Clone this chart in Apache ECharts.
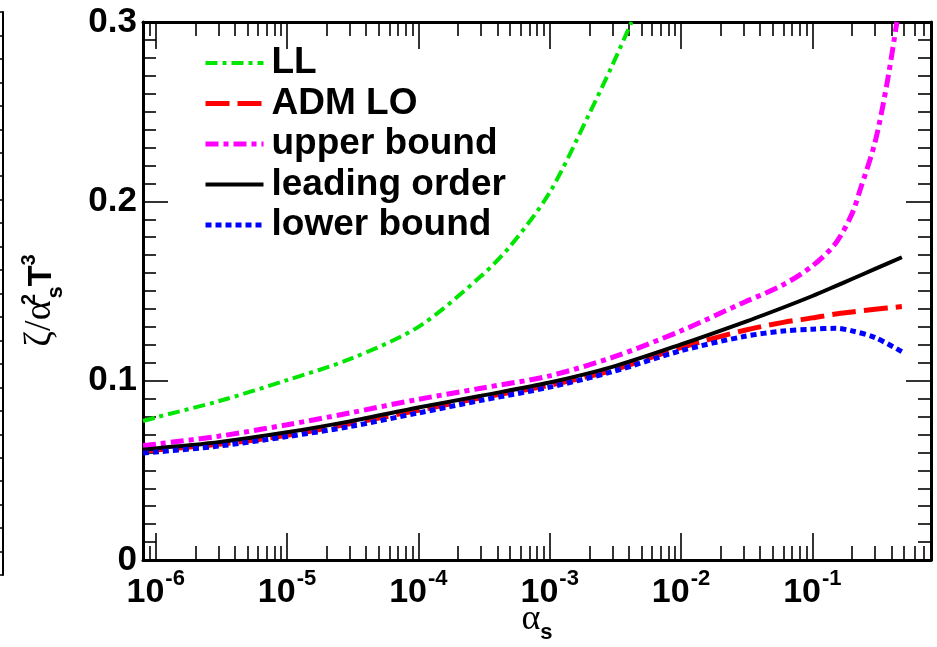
<!DOCTYPE html>
<html>
<head>
<meta charset="utf-8">
<script src="https://cdn.jsdelivr.net/npm/echarts@6/dist/echarts.min.js"></script>
<style>
  html, body { margin: 0; padding: 0; background: #fff; }
  #chart { width: 937px; height: 647px; }
</style>
</head>
<body>
<div id="chart"></div>
<script>
// ---- data: zeta / (alpha_s^2 T^3) versus alpha_s ----
const llX      = [8e-7, 1e-6, 3e-6, 1e-5, 3e-5, 1e-4, 3e-4, 5e-4, 1e-3, 2e-3, 3e-3, 0.0042];
const llY      = [0.0775, 0.0795, 0.0885, 0.1003, 0.1120, 0.1300, 0.1583, 0.1750, 0.2050, 0.2488, 0.2760, 0.3000];

const upperX   = [8e-7, 1e-6, 3e-6, 1e-5, 3e-5, 1e-4, 3e-4, 1e-3, 3e-3, 0.01, 0.03, 0.06, 0.1, 0.15, 0.2, 0.23, 0.3, 0.37, 0.44];
const upperY   = [0.0638, 0.0646, 0.0690, 0.0754, 0.0820, 0.0896, 0.0958, 0.1027, 0.1130, 0.1278, 0.1436, 0.1535, 0.1640, 0.1765, 0.1930, 0.2060, 0.2330, 0.2658, 0.3000];

const commonX  = [8e-7, 1e-6, 3e-6, 1e-5, 3e-5, 1e-4, 3e-4, 1e-3, 3e-3, 0.01, 0.03, 0.06, 0.1, 0.15, 0.2, 0.3, 0.48];
const admY     = [0.0606, 0.0613, 0.0645, 0.0695, 0.0760, 0.0835, 0.0905, 0.0975, 0.1058, 0.1185, 0.1280, 0.1325, 0.1350, 0.1372, 0.1383, 0.1398, 0.1413];
const leadingY = [0.0615, 0.0622, 0.0657, 0.0712, 0.0773, 0.0850, 0.0916, 0.0990, 0.1077, 0.1202, 0.1325, 0.1408, 0.1472, 0.1527, 0.1567, 0.1623, 0.1688];
const lowerY   = [0.0596, 0.0602, 0.0635, 0.0688, 0.0744, 0.0820, 0.0890, 0.0964, 0.1050, 0.1167, 0.1246, 0.1277, 0.1287, 0.1292, 0.1278, 0.1240, 0.1162];

// ---- axes ----
const xMin = 8e-7, xMax = 0.8;
const decadeExponents = [-6, -5, -4, -3, -2, -1];
const minorMultipliers = [2, 3, 4, 5, 6, 7, 8, 9];
const yTickLabels = ['0', '0.1', '0.2', '0.3'];

const decadeTicks = decadeExponents.map(e => Math.pow(10, e));
const minorTicks = [];
[-7].concat(decadeExponents).forEach(e => {
  minorMultipliers.forEach(m => minorTicks.push(m * Math.pow(10, e)));
});

const FONT = "'Liberation Sans', Arial, Helvetica, sans-serif";
const GREEK = "'Liberation Serif', 'DejaVu Serif', serif";

const pairs = (xs, ys) => xs.map((x, i) => [x, ys[i]]);

const chart = echarts.init(document.getElementById('chart'), null, { renderer: 'canvas' });

function xAxisCfg(position, major, showLine) {
  return {
    type: 'log', logBase: 10, gridIndex: 0, position,
    min: xMin, max: xMax,
    axisLine: { show: showLine, lineStyle: { color: '#000', width: 3 } },
    axisTick: {
      show: true, inside: true, length: major ? 27 : 14,
      lineStyle: { color: '#000', width: 1.6 },
      customValues: major ? decadeTicks : minorTicks
    },
    axisLabel: { show: false },
    splitLine: { show: false },
    minorTick: { show: false },
    minorSplitLine: { show: false }
  };
}

const xBottom = xAxisCfg('bottom', true, true);
xBottom.axisLabel = {
  show: true, margin: 14,
  customValues: decadeTicks,
  formatter: v => '{b|10}{s|' + Math.round(Math.log10(v)) + '}',
  rich: {
    b: { fontFamily: FONT, fontWeight: 'bold', fontSize: 34, color: '#000', lineHeight: 36, verticalAlign: 'bottom' },
    s: { fontFamily: FONT, fontWeight: 'bold', fontSize: 22, color: '#000', lineHeight: 22, padding: [0, 0, 20, 1], verticalAlign: 'bottom' }
  }
};
xBottom.name = '{a|α}{s|s}';
xBottom.nameLocation = 'middle';
xBottom.nameGap = 42;
xBottom.nameMoveOverlap = false;
xBottom.nameTextStyle = {
  rich: {
    a: { fontFamily: GREEK, fontSize: 36, color: '#000', padding: [0, 0, 6, 0], verticalAlign: 'bottom' },
    s: { fontFamily: FONT, fontWeight: 'bold', fontSize: 22, color: '#000', verticalAlign: 'bottom' }
  }
};

function yAxisCfg(position, labels) {
  return {
    type: 'value', gridIndex: 0, position,
    min: 0, max: 0.3, interval: 0.1,
    axisLine: { show: true, lineStyle: { color: '#000', width: 3 } },
    axisTick: { show: true, inside: true, length: 25, lineStyle: { color: '#000', width: 1.6 } },
    minorTick: { show: true, splitNumber: 10, length: 13, lineStyle: { color: '#000', width: 1.6 } },
    axisLabel: labels ? {
      show: true, margin: 6,
      fontFamily: FONT, fontWeight: 'bold', fontSize: 35, color: '#000',
      formatter: (v, i) => yTickLabels[i]
    } : { show: false },
    splitLine: { show: false },
    minorSplitLine: { show: false }
  };
}

const yLeft = yAxisCfg('left', true);
// superscript 2 and subscript s share one column after alpha
yLeft.name = '{g|ζ/α}{p|2}{d|s}{t|T}{q|3}';
yLeft.nameLocation = 'middle';
yLeft.nameRotate = 90;
yLeft.nameGap = 84;
yLeft.nameMoveOverlap = false;
yLeft.nameTextStyle = {
  rich: {
    g: { fontFamily: GREEK, fontSize: 38, color: '#000', verticalAlign: 'bottom', lineHeight: 40 },
    p: { fontFamily: FONT, fontWeight: 'bold', fontSize: 20, color: '#000', verticalAlign: 'bottom', width: 2, padding: [0, 0, 20, 0] },
    d: { fontFamily: FONT, fontWeight: 'bold', fontSize: 22, color: '#000', verticalAlign: 'bottom', padding: [0, 0, -8, 0] },
    t: { fontFamily: FONT, fontWeight: 'bold', fontSize: 34, color: '#000', verticalAlign: 'bottom', lineHeight: 40 },
    q: { fontFamily: FONT, fontWeight: 'bold', fontSize: 20, color: '#000', verticalAlign: 'bottom', padding: [0, 19, 20, 0] }
  }
};

const seriesStyles = {
  'LL':            { color: '#00e600', width: 4, type: [12, 5, 4, 5] },
  'ADM LO':        { color: '#ff0000', width: 5, type: [24, 8] },
  'upper bound':   { color: '#ff00ff', width: 5, type: [13, 5, 5, 5] },
  'leading order': { color: '#000000', width: 4, type: 'solid' },
  'lower bound':   { color: '#0000ff', width: 5, type: [6, 4] }
};
const legendNames = ['LL', 'ADM LO', 'upper bound', 'leading order', 'lower bound'];

function lineSeries(name, xs, ys) {
  const st = seriesStyles[name];
  return {
    name, type: 'line', xAxisIndex: 0, yAxisIndex: 0,
    data: pairs(xs, ys), showSymbol: false, symbol: 'none', smooth: 0.3, clip: true,
    lineStyle: { color: st.color, width: st.width, type: st.type },
    itemStyle: { color: st.color }
  };
}

const option = {
  animation: false,
  backgroundColor: '#ffffff',
  grid: [
    { left: 143, right: 6, top: 22, bottom: 87, containLabel: false, outerBoundsMode: 'none' },
    // neighbouring panel's axis peeking in at the left edge
    { left: 3, width: 1, top: 12, height: 563, containLabel: false, outerBoundsMode: 'none' }
  ],
  legend: {
    orient: 'vertical', left: 203, top: 43, padding: 0,
    itemWidth: 58, itemHeight: 14, itemGap: 0.5,
    selectedMode: false,
    itemStyle: { opacity: 0 },
    textStyle: { fontFamily: FONT, fontWeight: 'bold', fontSize: 37, color: '#000', lineHeight: 40, padding: [0, 0, 0, 3] },
    data: legendNames.map(n => ({
      name: n,
      itemStyle: { opacity: 0 },
      lineStyle: { color: seriesStyles[n].color, width: seriesStyles[n].width, type: seriesStyles[n].type }
    }))
  },
  xAxis: [
    xBottom,
    xAxisCfg('bottom', false, false),
    xAxisCfg('top', true, true),
    xAxisCfg('top', false, false),
    { type: 'value', gridIndex: 1, show: false, min: 0, max: 1 }
  ],
  yAxis: [
    yLeft,
    yAxisCfg('right', false),
    {
      type: 'value', gridIndex: 1, position: 'left', min: 0, max: 24, interval: 1,
      axisLine: { show: true, lineStyle: { color: '#000', width: 2 } },
      axisTick: { show: true, inside: false, length: 3, lineStyle: { color: '#000', width: 1.5 } },
      axisLabel: { show: false }, splitLine: { show: false }
    }
  ],
  series: [
    lineSeries('LL', llX, llY),
    lineSeries('ADM LO', commonX, admY),
    lineSeries('upper bound', upperX, upperY),
    lineSeries('leading order', commonX, leadingY),
    lineSeries('lower bound', commonX, lowerY)
  ]
};

chart.setOption(option);
</script>
</body>
</html>
